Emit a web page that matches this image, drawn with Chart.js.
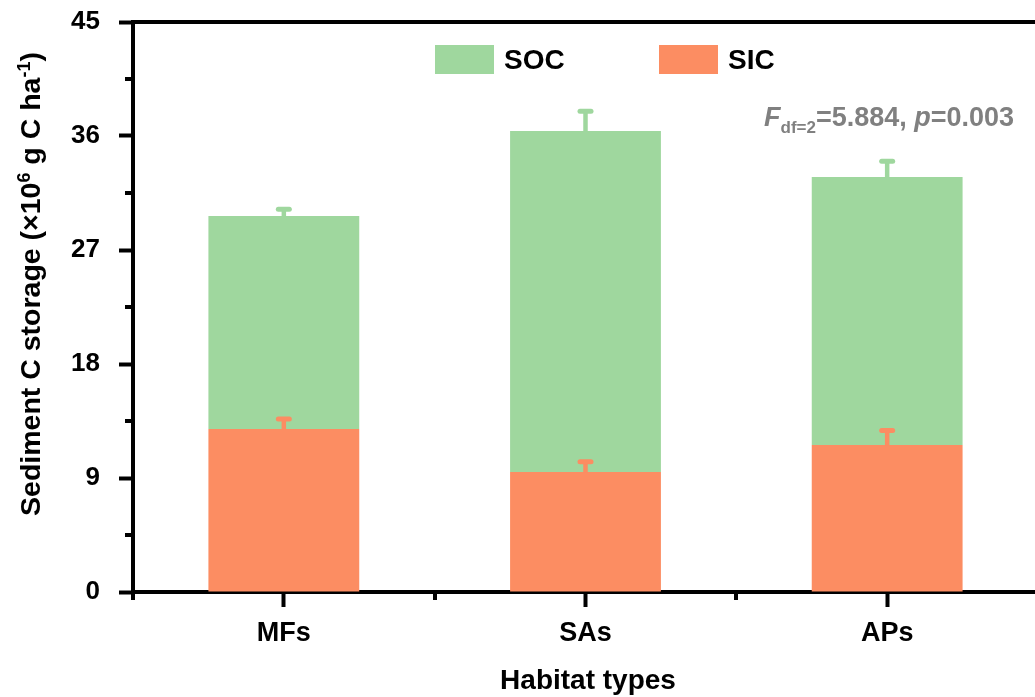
<!DOCTYPE html>
<html>
<head>
<meta charset="utf-8">
<script src="https://cdn.jsdelivr.net/npm/chart.js@4"></script>
<style>
  html, body { margin: 0; padding: 0; background: #fff; overflow: hidden; }
  #wrap { position: relative; width: 1045px; height: 697px; }
</style>
</head>
<body>
<div id="wrap"><canvas id="chart"></canvas></div>
<script>
// data (x10^6 g C ha-1)
const categories = ['MFs', 'SAs', 'APs'];
const sicValues = [12.87, 9.47, 11.6];
const sicErrors = [0.79, 0.82, 1.15];
const socValues = [16.81, 26.92, 21.16];
const socErrors = [0.53, 1.57, 1.24];
const yTicks = [0, 9, 18, 27, 36, 45];

const FONT = "'Liberation Sans', Arial, sans-serif";
const GREEN = 'rgb(159, 215, 158)';
const ORANGE = 'rgb(252, 141, 98)';

// error bars, frame, minor ticks, legend, titles
const extras = {
    id: 'extras',
    afterDatasetsDraw(chart) {
        const ctx = chart.ctx;
        const y = chart.scales.y;
        const errs = [sicErrors, socErrors];
        ctx.save();
        chart.data.datasets.forEach((ds, i) => {
            const meta = chart.getDatasetMeta(i);
            meta.data.forEach((bar, j) => {
                let top = 0;
                for (let k = 0; k <= i; k++) top += chart.data.datasets[k].data[j];
                const yEnd = y.getPixelForValue(top + errs[i][j]);
                ctx.strokeStyle = ds.backgroundColor;
                ctx.lineCap = 'butt';
                ctx.lineWidth = 4.5;
                ctx.beginPath();
                ctx.moveTo(bar.x, bar.y);
                ctx.lineTo(bar.x, yEnd);
                ctx.stroke();
                ctx.lineCap = 'round';
                ctx.lineWidth = 5;
                ctx.beginPath();
                ctx.moveTo(bar.x - 5.5, yEnd);
                ctx.lineTo(bar.x + 5.5, yEnd);
                ctx.stroke();
            });
        });
        ctx.restore();
    },
    afterDraw(chart) {
        const ctx = chart.ctx;
        const area = chart.chartArea;
        const x = chart.scales.x;
        const y = chart.scales.y;
        ctx.save();
        ctx.strokeStyle = '#000';
        ctx.lineWidth = 4;
        ctx.lineCap = 'butt';
        // top frame line
        ctx.beginPath();
        ctx.moveTo(area.left, area.top);
        ctx.lineTo(chart.width, area.top);
        ctx.stroke();
        // y minor ticks
        for (let k = 0; k < yTicks.length - 1; k++) {
            const py = Math.round(y.getPixelForValue((yTicks[k] + yTicks[k + 1]) / 2));
            ctx.beginPath();
            ctx.moveTo(area.left, py);
            ctx.lineTo(area.left - 8, py);
            ctx.stroke();
        }
        // x minor ticks at category edges
        const half = (x.getPixelForValue(1) - x.getPixelForValue(0)) / 2;
        for (let k = 0; k <= categories.length; k++) {
            const px = Math.round(x.getPixelForValue(0) - half + k * 2 * half);
            ctx.beginPath();
            ctx.moveTo(px, area.bottom);
            ctx.lineTo(px, area.bottom + 8);
            ctx.stroke();
        }

        // legend
        const items = [[chart.data.datasets[1], 435], [chart.data.datasets[0], 659]];
        ctx.font = 'bold 28px ' + FONT;
        ctx.textBaseline = 'middle';
        ctx.textAlign = 'left';
        items.forEach(([ds, lx]) => {
            ctx.fillStyle = ds.backgroundColor;
            ctx.fillRect(lx, 45, 59, 29);
            ctx.fillStyle = '#000';
            ctx.fillText(ds.label, lx + 69, 61);
        });

        // statistics note
        ctx.fillStyle = 'rgb(128, 128, 128)';
        ctx.textBaseline = 'alphabetic';
        let tx = 764;
        const base = 126;
        const seg = (text, font, dy) => {
            ctx.font = font;
            ctx.fillText(text, tx, base + dy);
            tx += ctx.measureText(text).width;
        };
        seg('F', 'italic bold 27px ' + FONT, 0);
        seg('df=2', 'bold 17px ' + FONT, 7);
        seg('=5.884, ', 'bold 27px ' + FONT, 0);
        seg('p', 'italic bold 27px ' + FONT, 0);
        seg('=0.003', 'bold 27px ' + FONT, 0);

        // x title
        ctx.fillStyle = '#000';
        ctx.font = 'bold 28px ' + FONT;
        ctx.textAlign = 'center';
        ctx.fillText('Habitat types', 588, 689);

        // y title with superscripts
        const parts = [
            ['Sediment C storage (\u00d710', 28.5, 0],
            ['6', 18, -10],
            [' g C ha', 28.5, 0],
            ['-1', 18, -10],
            [')', 28.5, 0]
        ];
        let total = 0;
        parts.forEach(p => { ctx.font = 'bold ' + p[1] + 'px ' + FONT; total += ctx.measureText(p[0]).width; });
        ctx.translate(40, 284 + total / 2);
        ctx.rotate(-Math.PI / 2);
        ctx.textAlign = 'left';
        let ox = 0;
        parts.forEach(p => {
            ctx.font = 'bold ' + p[1] + 'px ' + FONT;
            ctx.fillText(p[0], ox, p[2]);
            ox += ctx.measureText(p[0]).width;
        });
        ctx.restore();
    }
};

const data = {
    labels: categories,
    datasets: [
        { label: 'SIC', data: sicValues, backgroundColor: ORANGE, barPercentage: 0.5, categoryPercentage: 1.0 },
        { label: 'SOC', data: socValues, backgroundColor: GREEN, barPercentage: 0.5, categoryPercentage: 1.0 }
    ]
};

const config = {
    type: 'bar',
    data: data,
    options: {
        responsive: true,
        maintainAspectRatio: false,
        animation: false,
        layout: { padding: { top: 22, right: 7, left: 0, bottom: 0 } },
        plugins: { legend: { display: false }, tooltip: { enabled: false } },
        scales: {
            x: {
                stacked: true,
                afterFit: s => { s.height = 105; s.paddingLeft = 0; s.paddingRight = 0; },
                grid: { offset: false, drawOnChartArea: false, drawTicks: true, tickLength: 15, tickWidth: 4, tickColor: '#000' },
                border: { color: '#000', width: 4 },
                ticks: { color: '#000', font: { family: FONT, size: 27, weight: 'bold' }, padding: 10 }
            },
            y: {
                stacked: true,
                min: 0,
                max: 45,
                afterFit: s => { s.width = 133; s.paddingTop = 0; s.paddingBottom = 0; },
                afterBuildTicks: s => { s.ticks = yTicks.map(v => ({ value: v })); },
                grid: { drawOnChartArea: false, drawTicks: true, tickLength: 14, tickWidth: 4, tickColor: '#000' },
                border: { color: '#000', width: 4 },
                ticks: { color: '#000', font: { family: FONT, size: 26, weight: 'bold' }, padding: 19 }
            }
        }
    },
    plugins: [extras]
};

let ctx = document.getElementById('chart').getContext('2d');
new Chart(ctx, config);
</script>
</body>
</html>
